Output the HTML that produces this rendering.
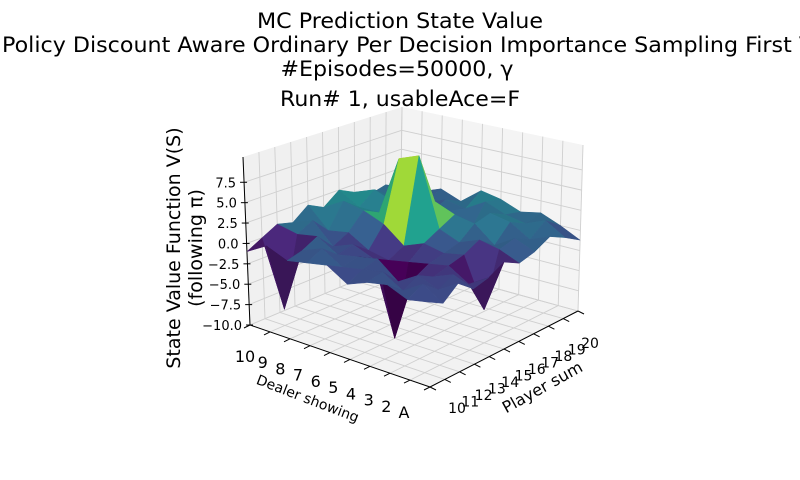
<!DOCTYPE html>
<html><head><meta charset="utf-8">
<style>
html,body{margin:0;padding:0;background:#fff;}
svg{display:block;font-family:"DejaVu Sans","Liberation Sans",sans-serif;}
</style></head>
<body>
<svg id="chart" width="800" height="480" viewBox="0 0 800 480">
<g font-size="21" fill="#000" text-anchor="middle">
<text x="400" y="28" textLength="286" lengthAdjust="spacingAndGlyphs">MC Prediction State Value</text>
<text x="2" y="52" text-anchor="start" textLength="812" lengthAdjust="spacingAndGlyphs">Policy Discount Aware Ordinary Per Decision Importance Sampling First V</text>
<text x="397" y="76" textLength="233" lengthAdjust="spacingAndGlyphs">#Episodes=50000, γ</text>
<text x="400" y="106" textLength="240" lengthAdjust="spacingAndGlyphs">Run# 1, usableAce=F</text>
</g>
<g id="panes"></g>
<g id="surface"></g>
<g id="labels"></g>
<text transform="translate(180,248) rotate(-90)" text-anchor="middle" font-size="19">State Value Function V(S)</text>
<text transform="translate(202,248) rotate(-90)" text-anchor="middle" font-size="19">(following π)</text>
<text transform="translate(306,403) rotate(21)" text-anchor="middle" font-size="14">Dealer showing</text>
<text transform="translate(545,392) rotate(-29)" text-anchor="middle" font-size="16">Player sum</text>
</svg>
<script>
const players = [10,11,12,13,14,15,16,17,18,19,20];
const dealers = ['A','2','3','4','5','6','7','8','9','10'];
const zTicks = [-10,-7.5,-5,-2.5,0,2.5,5,7.5];
const zTickLabels = ['\u221210.0','\u22127.5','\u22125.0','\u22122.5','0.0','2.5','5.0','7.5'];
// rows: dealer A..10 ; cols: player 10..20
const values = [
 [ 0.0,-1.0, 0.5,-1.0,-0.5, 0.5,-0.5, 0.0, 1.0, 0.0,-1.2],
 [-0.5, 0.5,-1.0, 0.0,-2.0,-6.0, 0.5, 1.0, 0.0, 1.5, 0.0],
 [ 0.5,-1.0, 0.0,-1.0,-0.5, 0.0, 1.0,-0.5, 1.5, 0.5, 1.0],
 [ 0.0, 0.5,-1.5,-2.0,-1.0,-0.5, 0.0, 1.5, 2.0, 1.0, 0.5],
 [-1.0, 0.0, 0.5,-10.0,-1.5, 0.0, 1.0, 2.0,-1.0, 2.0, 1.5],
 [ 0.5,-0.5, 0.0,-1.0,-2.0,-1.0, 9.5, 3.0, 1.0, 0.5, 2.0],
 [ 0.0, 1.0,-0.5, 0.0,-1.5, 1.0, 8.5, 0.5, 0.0, 1.0, 0.0],
 [-0.5, 0.0, 1.0,-1.0, 0.0, 2.0, 1.0, 1.5,-0.5, 0.0, 1.0],
 [ 0.5,-8.0, 0.5, 1.5,-0.5, 2.5, 1.0, 2.5, 1.0, 0.5, 0.0],
 [-1.0, 0.0, 1.0, 0.5, 2.0, 1.0, 2.5, 1.5, 0.5, 1.0, 0.0]
];
const NS='http://www.w3.org/2000/svg';
const zMin=-10, zTop=10.6;
const NP=players.length-1, ND=dealers.length-1;
const BOT={F:[430,387],R:[578,311],L:[250,325],B:[400,262]};
const TOP={F:[425,212],R:[583,145],L:[243,157],B:[402,107]};
function bil(C,u,v){const r=[];for(let k=0;k<2;k++)r.push(C.F[k]*(1-u)*(1-v)+C.R[k]*u*(1-v)+C.L[k]*(1-u)*v+C.B[k]*u*v);return r;}
function P(p,d,z){
  const u=p/NP,v=d/ND;const b=bil(BOT,u,v),t=bil(TOP,u,v);const w=(z-zMin)/(zTop-zMin);
  return [b[0]+(t[0]-b[0])*w,b[1]+(t[1]-b[1])*w];
}
function mk(tag,attrs,parent){const e=document.createElementNS(NS,tag);for(const k in attrs)e.setAttribute(k,attrs[k]);parent.appendChild(e);return e;}
function pts(a){return a.map(q=>q[0].toFixed(1)+','+q[1].toFixed(1)).join(' ');}
const panes=document.getElementById('panes');
let f=mk('polygon',{points:pts([P(0,0,zMin),P(NP,0,zMin),P(NP,ND,zMin),P(0,ND,zMin)]),fill:'#f2f2f2'},panes);


let lw=mk('polygon',{points:pts([P(0,ND,zMin),P(NP,ND,zMin),P(NP,ND,zTop),P(0,ND,zTop)]),fill:'#f0f0f0'},panes);


let rw=mk('polygon',{points:pts([P(NP,0,zMin),P(NP,ND,zMin),P(NP,ND,zTop),P(NP,0,zTop)]),fill:'#f4f4f4'},panes);


function gl(a,b,name){const l=mk('line',{x1:a[0],y1:a[1],x2:b[0],y2:b[1],stroke:'#cfcfcf','stroke-width':0.9},panes);

}
for(let i=0;i<players.length;i++){gl(P(i,0,zMin),P(i,ND,zMin),'floor-grid-player');gl(P(i,ND,zMin),P(i,ND,zTop),'wall-grid-player');}
for(let j=0;j<dealers.length;j++){gl(P(0,j,zMin),P(NP,j,zMin),'floor-grid-dealer');gl(P(NP,j,zMin),P(NP,j,zTop),'wall-grid-dealer');}
zTicks.forEach(z=>{gl(P(0,ND,z),P(NP,ND,z),'wall-grid-z');gl(P(NP,ND,z),P(NP,0,z),'wall-grid-z');});
function al(a,b,name){const l=mk('line',{x1:a[0],y1:a[1],x2:b[0],y2:b[1],stroke:'#000','stroke-width':1},panes);

}
al(P(0,ND,zMin),P(0,ND,zTop),'z-axis-line');
al(P(0,0,zMin),P(0,ND,zMin),'dealer-axis-line');
al(P(0,0,zMin),P(NP,0,zMin),'player-axis-line');
const vir=[[68,1,84],[72,40,120],[62,74,137],[49,104,142],[38,130,142],[31,158,137],[53,183,121],[109,205,89],[180,222,44],[253,231,37]];
function vcol(t){t=Math.max(0,Math.min(1,t))*(vir.length-1);const i=Math.min(Math.floor(t),vir.length-2),f=t-i;return vir[i].map((c,k)=>c+(vir[i+1][k]-c)*f);}
const faces=[];
let mmin=Infinity,mmax=-Infinity;
for(let j=0;j<ND;j++)for(let i=0;i<NP;i++){
  const z=[values[j][i],values[j][i+1],values[j+1][i+1],values[j+1][i]];
  const mean=(z[0]+z[1]+z[2]+z[3])/4;
  mmin=Math.min(mmin,mean);mmax=Math.max(mmax,mean);
  const dzdp=((z[1]-z[0])+(z[2]-z[3]))/2, dzdd=((z[3]-z[0])+(z[2]-z[1]))/2;
  const n=[-dzdp/4,-dzdd/4,1];const nl=Math.hypot(...n);
  const light=[-0.5,-0.6,0.62];const ll=Math.hypot(...light);
  const sh=0.85+0.2*((n[0]*light[0]+n[1]*light[1]+n[2]*light[2])/(nl*ll));
  faces.push({i,j,z,mean,sh,depth:(i+0.5)*0.8+(j+0.5)*1.0});
}
faces.sort((a,b)=>b.depth-a.depth);
const surf=document.getElementById('surface');
faces.forEach(f=>{
  const t=Math.pow((f.mean-mmin)/(mmax-mmin),1.5);
  const col='rgb('+vcol(t).map(v=>Math.round(Math.min(255,v*f.sh))).join(',')+')';
  const q=[P(f.i,f.j,f.z[0]),P(f.i+1,f.j,f.z[1]),P(f.i+1,f.j+1,f.z[2]),P(f.i,f.j+1,f.z[3])];
  const pg=mk('polygon',{points:pts(q),fill:col,stroke:col,'stroke-width':0.5,'stroke-linejoin':'round'},surf);
  
  
});
const lab=document.getElementById('labels');
zTicks.forEach((z,k)=>{const p=P(0,ND,z);
  const t=mk('text',{x:p[0]-8,y:p[1]+5,'text-anchor':'end','font-size':13},lab);t.textContent=zTickLabels[k];
  
  
  const tk=mk('line',{x1:p[0]-4,y1:p[1],x2:p[0]+3,y2:p[1],stroke:'#000','stroke-width':1},lab);
  
  });
dealers.forEach((d,j)=>{const p=P(0,j,zMin);const v=j/ND;
  const t=mk('text',{x:p[0]-26+21*v,y:p[1]+31+6*v,'text-anchor':'middle','font-size':16},lab);t.textContent=d;
  
  
  const tk=mk('line',{x1:p[0],y1:p[1],x2:p[0]-6,y2:p[1]+3,stroke:'#000','stroke-width':1},lab);
  
  });
players.forEach((pl,i)=>{const p=P(i,0,zMin);const u=i/NP;
  const t=mk('text',{x:p[0]+27-15*u,y:p[1]+26+11*u,'text-anchor':'middle','font-size':14},lab);t.textContent=pl;
  
  
  const tk=mk('line',{x1:p[0],y1:p[1],x2:p[0]+6,y2:p[1]+3,stroke:'#000','stroke-width':1},lab);
  
  });
</script>
</body></html>
